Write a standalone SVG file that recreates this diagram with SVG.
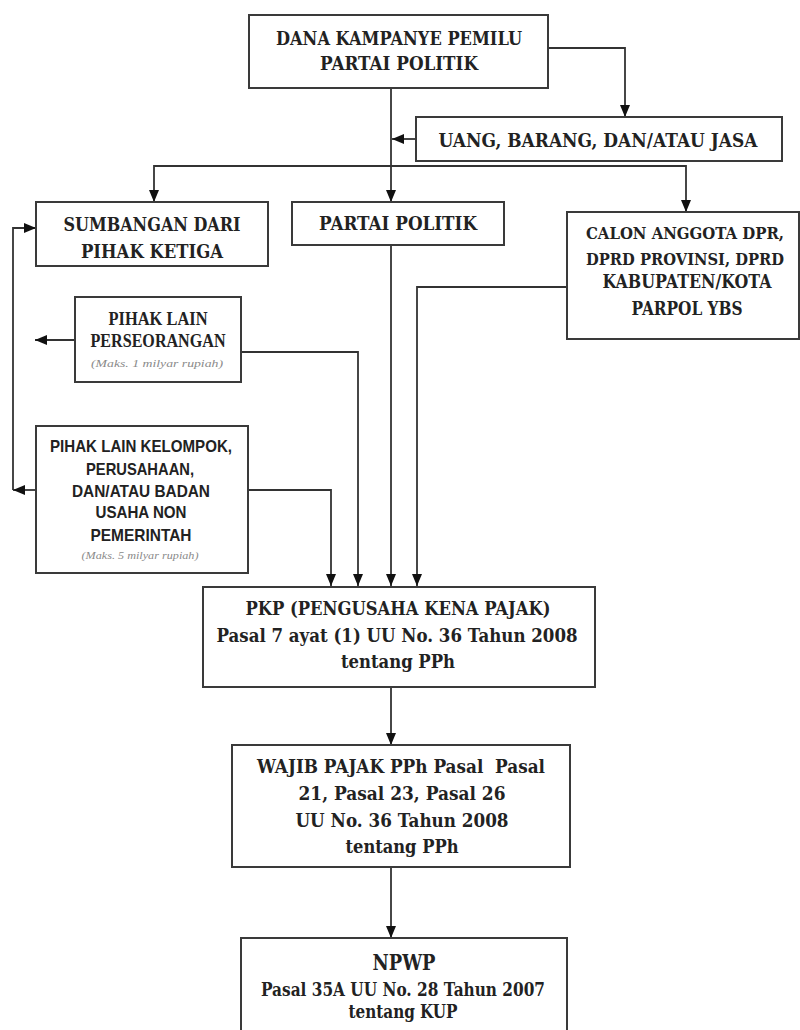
<svg xmlns="http://www.w3.org/2000/svg" width="800" height="1030" viewBox="0 0 800 1030">
<style>
.box{fill:#fff;stroke:#3a3a3a;stroke-width:2}
.t{font-family:"DejaVu Serif","Liberation Serif",serif;font-weight:bold;font-size:18px;fill:#222;text-anchor:middle}
.tt{font-family:"Liberation Serif",serif;font-weight:bold;font-size:19px;fill:#222;text-anchor:middle}
.s{font-family:"Liberation Sans",Arial,sans-serif;font-weight:bold;font-size:17px;fill:#222;text-anchor:middle}
.i{font-family:"Liberation Serif",serif;font-style:italic;font-size:11px;fill:#8a8a8a;text-anchor:middle}
.c{fill:none;stroke:#333;stroke-width:1.8;marker-end:url(#ah)}
</style>
<defs>
<marker id="ah" markerUnits="userSpaceOnUse" markerWidth="12" markerHeight="10" refX="12" refY="5" orient="auto">
<path d="M0,0 L12,5 L0,10 z" fill="#111"/>
</marker>
</defs>
<rect width="800" height="1030" fill="#fff"/>
<g id="connectors">
<path class="c" d="M548,48 H625 V117"/>
<path class="c" d="M391,88 V202"/>
<path class="c" d="M416,139 H392"/>
<path class="c" d="M391,166 H154 V202" />
<path class="c" d="M391,166 H686 V212"/>
<path class="c" d="M13,490 V228 H36"/>
<path class="c" d="M36,490 H13"/>
<path class="c" d="M75,340 H35"/>
<path class="c" d="M241,352 H358 V586"/>
<path class="c" d="M248,490 H331 V586"/>
<path class="c" d="M391,245 V586"/>
<path class="c" d="M567,287 H417 V586"/>
<path class="c" d="M391,687 V745"/>
<path class="c" d="M391,867 V938"/>
</g>
<g id="dana">
<rect class="box" x="249" y="15" width="299" height="73"/>
<text class="t" x="399" y="45" textLength="246" lengthAdjust="spacingAndGlyphs">DANA KAMPANYE PEMILU</text>
<text class="t" x="399" y="70" textLength="158" lengthAdjust="spacingAndGlyphs">PARTAI POLITIK</text>
</g>
<g id="uang">
<rect class="box" x="416" y="117" width="366" height="44"/>
<text class="t" x="598" y="147" textLength="319" lengthAdjust="spacingAndGlyphs">UANG, BARANG, DAN/ATAU JASA</text>
</g>
<g id="sumbangan">
<rect class="box" x="36" y="202" width="232" height="64"/>
<text class="t" x="152" y="231" textLength="177" lengthAdjust="spacingAndGlyphs">SUMBANGAN DARI</text>
<text class="t" x="152" y="258" textLength="142" lengthAdjust="spacingAndGlyphs">PIHAK KETIGA</text>
</g>
<g id="partai">
<rect class="box" x="292" y="202" width="212" height="43"/>
<text class="t" x="398" y="230" textLength="158" lengthAdjust="spacingAndGlyphs">PARTAI POLITIK</text>
</g>
<g id="calon">
<rect class="box" x="567" y="212" width="232" height="127"/>
<text class="t" x="685" y="239" style="font-size:16px" textLength="198" lengthAdjust="spacingAndGlyphs">CALON ANGGOTA DPR,</text>
<text class="t" x="685" y="265" style="font-size:16px" textLength="198" lengthAdjust="spacingAndGlyphs">DPRD PROVINSI, DPRD</text>
<text class="t" x="687" y="288" textLength="169" lengthAdjust="spacingAndGlyphs">KABUPATEN/KOTA</text>
<text class="t" x="687" y="315" textLength="111" lengthAdjust="spacingAndGlyphs">PARPOL YBS</text>
</g>
<g id="perseorangan">
<rect class="box" x="75" y="297" width="166" height="85"/>
<text class="tt" x="158" y="325" textLength="99" lengthAdjust="spacingAndGlyphs">PIHAK LAIN</text>
<text class="tt" x="158" y="347" textLength="135" lengthAdjust="spacingAndGlyphs">PERSEORANGAN</text>
<text class="i" x="157" y="367" textLength="132" lengthAdjust="spacingAndGlyphs">(Maks. 1 milyar rupiah)</text>
</g>
<g id="kelompok">
<rect class="box" x="36" y="426" width="212" height="147"/>
<text class="s" x="141" y="452" textLength="182" lengthAdjust="spacingAndGlyphs">PIHAK LAIN KELOMPOK,</text>
<text class="s" x="140" y="475" textLength="108" lengthAdjust="spacingAndGlyphs">PERUSAHAAN,</text>
<text class="s" x="141" y="497" textLength="138" lengthAdjust="spacingAndGlyphs">DAN/ATAU BADAN</text>
<text class="s" x="141" y="518" textLength="91" lengthAdjust="spacingAndGlyphs">USAHA NON</text>
<text class="s" x="141" y="541" textLength="101" lengthAdjust="spacingAndGlyphs">PEMERINTAH</text>
<text class="i" x="140" y="559" textLength="117" lengthAdjust="spacingAndGlyphs">(Maks. 5 milyar rupiah)</text>
</g>
<g id="pkp">
<rect class="box" x="203" y="587" width="392" height="100"/>
<text class="t" x="398" y="615" textLength="305" lengthAdjust="spacingAndGlyphs">PKP (PENGUSAHA KENA PAJAK)</text>
<text class="t" x="397" y="642" textLength="361" lengthAdjust="spacingAndGlyphs">Pasal 7 ayat (1) UU No. 36 Tahun 2008</text>
<text class="t" x="398" y="668" textLength="114" lengthAdjust="spacingAndGlyphs">tentang PPh</text>
</g>
<g id="wajib">
<rect class="box" x="232" y="745" width="338" height="122"/>
<text class="t" x="401" y="773" textLength="288" lengthAdjust="spacingAndGlyphs">WAJIB PAJAK PPh Pasal&#160; Pasal</text>
<text class="t" x="402" y="800" textLength="207" lengthAdjust="spacingAndGlyphs">21, Pasal 23, Pasal 26</text>
<text class="t" x="402" y="827" textLength="213" lengthAdjust="spacingAndGlyphs">UU No. 36 Tahun 2008</text>
<text class="t" x="402" y="853" textLength="113" lengthAdjust="spacingAndGlyphs">tentang PPh</text>
</g>
<g id="npwp">
<rect class="box" x="241" y="938" width="326" height="100"/>
<text class="t" x="404" y="970" style="font-size:23px" textLength="63" lengthAdjust="spacingAndGlyphs">NPWP</text>
<text class="t" x="403" y="996" textLength="284" lengthAdjust="spacingAndGlyphs">Pasal 35A UU No. 28 Tahun 2007</text>
<text class="t" x="403" y="1018" textLength="109" lengthAdjust="spacingAndGlyphs">tentang KUP</text>
</g>
</svg>
